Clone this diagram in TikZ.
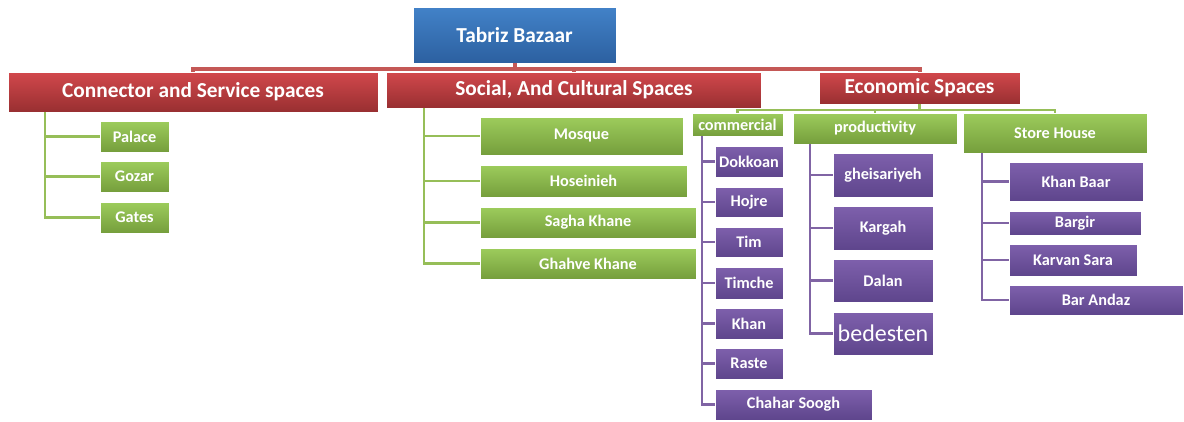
\documentclass[tikz,border=0pt]{standalone}
\usepackage{fontspec}
\setmainfont{Carlito}
\usepackage{tikz}
\usetikzlibrary{calc}
\definecolor{bluetop}{RGB}{66,130,200}
\definecolor{bluebot}{RGB}{44,96,160}
\definecolor{redtop}{RGB}{210,72,76}
\definecolor{redbot}{RGB}{152,47,49}
\definecolor{greentop}{RGB}{157,204,92}
\definecolor{greenbot}{RGB}{117,158,60}
\definecolor{purpletop}{RGB}{126,96,172}
\definecolor{purplebot}{RGB}{94,69,140}
\definecolor{rcol}{RGB}{196,88,86}
\definecolor{gcol}{RGB}{150,190,88}
\definecolor{pcol}{RGB}{128,100,164}
\tikzstyle{box}=[inner sep=0pt,draw=white,line width=0.5pt,text=white,font=\bfseries\fontsize{12.2}{14}\selectfont]
\tikzstyle{bluebox}=[box,top color=bluetop,bottom color=bluebot,font=\bfseries\fontsize{16}{18}\selectfont]
\tikzstyle{redbox}=[box,top color=redtop,bottom color=redbot,font=\bfseries\fontsize{16}{18}\selectfont]
\tikzstyle{greenbox}=[box,top color=greentop,bottom color=greenbot]
\tikzstyle{purplebox}=[box,top color=purpletop,bottom color=purplebot]
\tikzstyle{rline}=[draw=rcol,line width=3pt]
\tikzstyle{gline}=[draw=gcol,line width=2.2pt]
\tikzstyle{pline}=[draw=pcol,line width=2.2pt]
\tikzset{sz/.style 2 args={minimum width=#1*0.75pt,minimum height=#2*0.75pt}}

\begin{document}
\begin{tikzpicture}[x=0.75pt,y=-0.75pt]
  \useasboundingbox (0,0) rectangle (1184,421);

  \node[bluebox,sz={203}{56}] (top) at (514.5,35) {Tabriz Bazaar};
  \node[redbox,sz={370}{40}] (cs) at (193,92) {Connector and Service spaces};
  \node[redbox,sz={375}{36}] (soc) at (574,90) {Social, And Cultural Spaces};
  \node[redbox,sz={201}{32}] (eco) at (919.5,88) {Economic Spaces};

  \coordinate (rbus) at (0,68.5);
  \draw[rline] (top.south) -- (top.south |- rbus);
  \foreach \c in {cs,soc,eco}{
    \draw[rline] (top.south |- rbus) -| (\c.north);
  }

  % economic spaces, second level
  \node[greenbox,sz={91}{23}] (com) at (737.5,124.5) {commercial};
  \node[greenbox,sz={164}{31}] (prod) at (875,128.5) {productivity};
  \node[greenbox,sz={184}{40}] (store) at (1055,133) {Store House};
  \coordinate (gbus) at (0,110);
  \draw[gline] (eco.south) -- (eco.south |- gbus);
  \foreach \c in {com,prod,store}{
    \draw[gline] (eco.south |- gbus) -| (\c.north);
  }

  \coordinate (csb) at (45,112);
  \foreach \n/\y/\t in {pal/136.5/Palace,goz/176.5/Gozar,gat/217.5/Gates}{
    \node[greenbox,sz={69}{31}] (\n) at (134.5,\y) {\t};
    \draw[gline] (csb) |- (\n.west);
  }

  \coordinate (socb) at (424,108);
  \foreach \n/\x/\y/\w/\h/\t in {mos/581.5/136/203/38/Mosque,hos/583.5/181/207/32/Hoseinieh,
      sag/588/222.5/216/31/Sagha Khane,gha/588/263.5/216/31/Ghahve Khane}{
    \node[greenbox,sz={\w}{\h}] (\n) at (\x,\y) {\t};
    \draw[gline] (socb) |- (\n.west);
  }

  \coordinate (comb) at (702,136);
  \foreach \n/\x/\y/\w/\h/\t in {dok/749/161.5/68/31/Dokkoan,hoj/749/202/68/30/Hojre,tim/749/242/68/30/Tim,
      timc/749/283/68/32/Timche,khn/749/323.5/68/31/Khan,ras/749/363.5/68/31/Raste,
      chah/793.5/404.5/157/31/Chahar Soogh}{
    \node[purplebox,sz={\w}{\h}] (\n) at (\x,\y) {\t};
    \draw[pline] (comb) |- (\n.west);
  }

  \coordinate (prodb) at (810,144);
  \foreach \n/\y/\h/\t in {ghe/175/44/gheisariyeh,kar/228/44/Kargah,dal/280.5/43/Dalan}{
    \node[purplebox,sz={100}{\h}] (\n) at (883,\y) {\t};
    \draw[pline] (prodb) |- (\n.west);
  }
  \node[purplebox,sz={100}{43},font=\fontsize{18}{20}\selectfont] (bed) at (883,333.5) {bedesten};
  \draw[pline] (prodb) |- (bed.west);

  \coordinate (stb) at (982,153);
  \foreach \n/\x/\y/\w/\h/\t in {kb/1076/181.5/134/39/Khan Baar,barg/1075/223/132/24/Bargir,
      kvs/1073/260/128/32/Karvan Sara,ba/1096/300/174/30/Bar Andaz}{
    \node[purplebox,sz={\w}{\h}] (\n) at (\x,\y) {\t};
    \draw[pline] (stb) |- (\n.west);
  }
\end{tikzpicture}
\end{document}
